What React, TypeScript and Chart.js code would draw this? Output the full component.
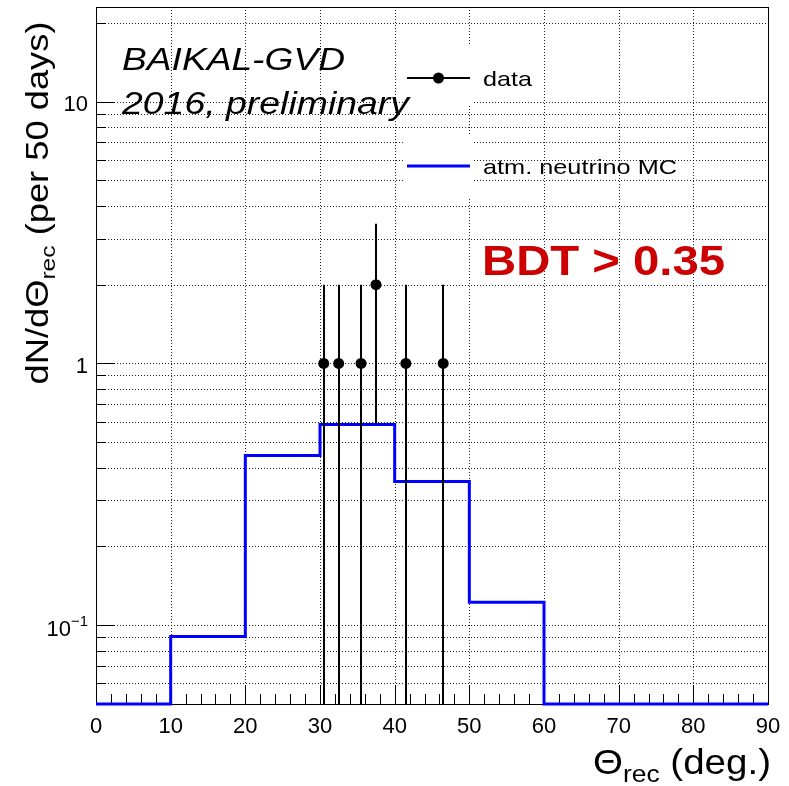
import React, { useEffect, useRef } from "react";
import { Chart, registerables } from "chart.js";

Chart.register(...registerables);

// ---------- data ----------
const xMin = 0;
const xMax = 90;
const yMin = 0.05;
const yMax = 23;

const mcEdges = [0, 10, 20, 30, 40, 50, 60, 70, 80, 90];
const mcValues = [0, 0.0905, 0.445, 0.584, 0.354, 0.1225, 0, 0, 0];

const dataX = [30.5, 32.5, 35.5, 37.5, 41.5, 46.5];
const dataY = [1, 1, 1, 2, 1, 1];
const dataErrLow = [1, 1, 1, 1.414, 1, 1];
const dataErrHigh = [1, 1, 1, 1.414, 1, 1];

const xMajorTicks = [0, 10, 20, 30, 40, 50, 60, 70, 80, 90];
const xTickLabels = ["0", "10", "20", "30", "40", "50", "60", "70", "80", "90"];
const xMinorStep = 2;
const yMajorTicks = [0.1, 1, 10];
const yTickBase = ["10", "1", "10"];
const yTickExp = ["\u22121", "", ""];
const yDecades = [0.01, 0.1, 1, 10];
const yMinorMult = [2, 3, 4, 5, 6, 7, 8, 9];

const FONT = "'Liberation Sans', Arial, Helvetica, sans-serif";

type Seg = { t: string; size: number; weight?: string; style?: string; dy?: number };

function segFont(s: Seg) {
  return `${s.style || "normal"} ${s.weight || "normal"} ${s.size}px ${FONT}`;
}

function drawSegs(
  ctx: CanvasRenderingContext2D,
  segs: Seg[],
  x: number,
  y: number,
  align: "left" | "right" | "center",
  targetW?: number,
  color = "#000"
) {
  ctx.save();
  ctx.textBaseline = "alphabetic";
  ctx.textAlign = "left";
  let total = 0;
  const widths = segs.map((s) => {
    ctx.font = segFont(s);
    const w = ctx.measureText(s.t).width;
    total += w;
    return w;
  });
  const sc = targetW ? targetW / total : 1;
  ctx.translate(x, y);
  ctx.scale(sc, 1);
  let cx = align === "left" ? 0 : align === "right" ? -total : -total / 2;
  ctx.fillStyle = color;
  segs.forEach((s, i) => {
    ctx.font = segFont(s);
    ctx.fillText(s.t, cx, s.dy || 0);
    cx += widths[i];
  });
  ctx.restore();
}

const rootPlugin = {
  id: "rootStyle",
  beforeDatasetsDraw(chart: any) {
    const { ctx, chartArea: a, scales } = chart;
    const xs = scales.x;
    const ys = scales.y;
    ctx.save();
    // grid
    ctx.strokeStyle = "rgba(0,0,0,0.85)";
    ctx.lineWidth = 1;
    ctx.setLineDash([1, 2]);
    xMajorTicks.forEach((v) => {
      if (v <= xMin || v >= xMax) return;
      const px = Math.round(xs.getPixelForValue(v)) + 0.5;
      ctx.beginPath();
      ctx.moveTo(px, a.top);
      ctx.lineTo(px, a.bottom);
      ctx.stroke();
    });
    const yGrid: number[] = [];
    yDecades.forEach((d) => {
      yGrid.push(d);
      yMinorMult.forEach((m) => yGrid.push(d * m));
    });
    yGrid.forEach((v) => {
      if (v <= yMin * 1.0001 || v >= yMax) return;
      const py = Math.round(ys.getPixelForValue(v)) + 0.5;
      ctx.beginPath();
      ctx.moveTo(a.left, py);
      ctx.lineTo(a.right, py);
      ctx.stroke();
    });
    ctx.setLineDash([]);

    // legend boxes (white fill behind entry symbols)
    ctx.fillStyle = "#fff";
    ctx.fillRect(403, 44, 69, 62);
    ctx.fillRect(403, 134, 69, 63);

    // frame
    ctx.strokeStyle = "#000";
    ctx.lineWidth = 1;
    ctx.strokeRect(Math.round(a.left) + 0.5, Math.round(a.top) + 0.5, Math.round(a.right - a.left), Math.round(a.bottom - a.top));

    // y ticks (inside)
    ctx.beginPath();
    yGrid.forEach((v) => {
      if (v < yMin || v > yMax) return;
      const py = Math.round(ys.getPixelForValue(v)) + 0.5;
      const isMajor = yMajorTicks.some((m) => Math.abs(m - v) < 1e-9);
      ctx.moveTo(a.left, py);
      ctx.lineTo(a.left + (isMajor ? 19 : 10), py);
    });
    // x ticks (inside, from bottom)
    for (let v = xMin; v <= xMax + 1e-9; v += xMinorStep) {
      const px = Math.round(xs.getPixelForValue(v)) + 0.5;
      ctx.moveTo(px, a.bottom);
      ctx.lineTo(px, a.bottom - 10);
    }
    xMajorTicks.forEach((v) => {
      const px = Math.round(xs.getPixelForValue(v)) + 0.5;
      ctx.moveTo(px, a.bottom);
      ctx.lineTo(px, a.bottom - 19);
    });
    ctx.stroke();
    ctx.restore();
  },
  beforeDatasetDraw(chart: any, args: any) {
    if (args.index !== 0) return;
    const { ctx, chartArea: a, scales } = chart;
    const xs = scales.x;
    const ys = scales.y;
    ctx.save();
    ctx.strokeStyle = "#000";
    ctx.lineWidth = 2;
    dataX.forEach((x, i) => {
      const px = Math.round(xs.getPixelForValue(x));
      const hi = dataY[i] + dataErrHigh[i];
      const lo = dataY[i] - dataErrLow[i];
      const pyHi = ys.getPixelForValue(Math.min(hi, yMax));
      const pyLo = lo > yMin ? ys.getPixelForValue(lo) : a.bottom;
      ctx.beginPath();
      ctx.moveTo(px, pyHi);
      ctx.lineTo(px, pyLo);
      ctx.stroke();
    });
    ctx.restore();
  },
  afterDraw(chart: any) {
    const { ctx, scales } = chart;
    const xs = scales.x;
    const ys = scales.y;
    ctx.save();
    // x tick labels
    xMajorTicks.forEach((v, i) => {
      drawSegs(ctx, [{ t: xTickLabels[i], size: 22 }], xs.getPixelForValue(v), 733, "center");
    });
    // y tick labels
    yMajorTicks.forEach((v, i) => {
      const py = ys.getPixelForValue(v);
      if (yTickExp[i]) {
        drawSegs(
          ctx,
          [
            { t: yTickBase[i], size: 22 },
            { t: yTickExp[i], size: 15, dy: -10 },
          ],
          88,
          py + 11,
          "right"
        );
      } else {
        drawSegs(ctx, [{ t: yTickBase[i], size: 22 }], 88, py + 9.5, "right");
      }
    });

    // axis titles
    drawSegs(
      ctx,
      [
        { t: "\u0398", size: 35 },
        { t: "rec", size: 24, dy: 8 },
        { t: " (deg.)", size: 35 },
      ],
      771,
      774,
      "right",
      178
    );
    ctx.save();
    ctx.translate(48, 203);
    ctx.rotate(-Math.PI / 2);
    drawSegs(
      ctx,
      [
        { t: "dN/d\u0398", size: 31 },
        { t: "rec", size: 21, dy: 7 },
        { t: " (per 50 days)", size: 31 },
      ],
      0,
      0,
      "center",
      363
    );
    ctx.restore();

    // annotations
    drawSegs(ctx, [{ t: "BAIKAL-GVD", size: 31, style: "italic" }], 122, 70, "left", 223);
    drawSegs(ctx, [{ t: "2016, preliminary", size: 31, style: "italic" }], 122, 114, "left", 287);
    drawSegs(ctx, [{ t: "BDT > 0.35", size: 43, weight: "bold" }], 482, 275, "left", 243, "#cc0000");

    // legend
    ctx.strokeStyle = "#000";
    ctx.lineWidth = 2;
    ctx.beginPath();
    ctx.moveTo(407, 78);
    ctx.lineTo(470, 78);
    ctx.stroke();
    ctx.fillStyle = "#000";
    ctx.beginPath();
    ctx.arc(438.5, 78, 5.5, 0, Math.PI * 2);
    ctx.fill();
    ctx.strokeStyle = "#0000ff";
    ctx.lineWidth = 3;
    ctx.beginPath();
    ctx.moveTo(407, 166);
    ctx.lineTo(470, 166);
    ctx.stroke();
    drawSegs(ctx, [{ t: "data", size: 21 }], 483, 86, "left", 49);
    drawSegs(ctx, [{ t: "atm. neutrino MC", size: 21 }], 483, 174, "left", 194);
    ctx.restore();
  },
};

export default function App() {
  const ref = useRef<HTMLCanvasElement | null>(null);
  useEffect(() => {
    if (!ref.current) return;
    const mcPoints = mcEdges.map((e, i) => {
      const v = i < mcValues.length ? mcValues[i] : mcValues[mcValues.length - 1];
      return { x: e, y: v > yMin ? v : yMin };
    });
    const chart = new Chart(ref.current, {
      type: "scatter",
      data: {
        datasets: [
          {
            label: "data",
            data: dataX.map((x, i) => ({ x, y: dataY[i] })),
            pointRadius: 5.5,
            pointBackgroundColor: "#000",
            pointBorderColor: "#000",
            pointBorderWidth: 0,
            showLine: false,
          } as any,
          {
            type: "line",
            label: "atm. neutrino MC",
            data: mcPoints,
            stepped: "before",
            borderColor: "#0000ff",
            borderWidth: 3,
            pointRadius: 0,
            fill: false,
            showLine: true,
            clip: false,
          } as any,
        ],
      },
      options: {
        responsive: false,
        animation: false,
        devicePixelRatio: 1,
        events: [],
        layout: { padding: { left: 96, right: 21, top: 7, bottom: 82 } },
        scales: {
          x: { type: "linear", min: xMin, max: xMax, display: false },
          y: { type: "logarithmic", min: yMin, max: yMax, display: false },
        },
        plugins: { legend: { display: false }, tooltip: { enabled: false } },
      } as any,
      plugins: [rootPlugin as any],
    });
    return () => chart.destroy();
  }, []);
  return (
    <div style={{ position: "fixed", left: 0, top: 0, width: 789, height: 786, background: "#fff" }}>
      <canvas ref={ref} width={789} height={786} style={{ width: 789, height: 786, display: "block" }} />
    </div>
  );
}
